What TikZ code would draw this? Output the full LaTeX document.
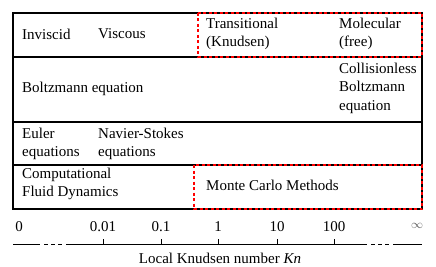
\documentclass[tikz,border=0pt]{standalone}
\usepackage{fontspec}
\setmainfont{Liberation Serif}
\begin{document}
\begin{tikzpicture}[x=1pt,y=-1pt,
  every node/.style={font=\fontsize{15}{18.5}\selectfont,inner sep=0pt,align=left},
  frame/.style={line width=1.3pt},
  regime/.style={red,line width=1.3pt,dash pattern=on 3pt off 2.5pt}]
\useasboundingbox (0,0) rectangle (436,267);
% table
\draw[frame] (13,13) rectangle (422,209);
\draw[frame] (13,57) -- (422,57);
\draw[frame] (13,122) -- (422,122);
\draw[frame] (13,165) -- (422,165);
\draw[regime] (198,13) rectangle (422,57);
\draw[regime] (194,165) rectangle (422,209);
\node[anchor=west] (inviscid) at (22,34) {Inviscid};
\node[anchor=west] (viscous) at (98,34) {Viscous};
\node[anchor=west] (transitional) at (206,34) {Transitional\\(Knudsen)};
\node[anchor=west] (molecular) at (339,34) {Molecular\\(free)};
\node[anchor=west] (boltzmann) at (22,89) {Boltzmann equation};
\node[anchor=west] (collisionless) at (339,88) {Collisionless\\Boltzmann\\equation};
\node[anchor=west] (euler) at (22,144) {Euler\\equations};
\node[anchor=west] (navier) at (98,144) {Navier-Stokes\\equations};
\node[anchor=west] (cfd) at (22,184) {Computational\\Fluid Dynamics};
\node[anchor=west] (montecarlo) at (206,185) {Monte Carlo Methods};
% axis
\draw[thick] (13,244) -- (40,244);
\draw[thick,dash pattern=on 4pt off 3pt] (44,244) -- (64,244);
\draw[thick] (66,244) -- (367,244);
\draw[thick,dash pattern=on 4pt off 3pt] (371,244) -- (391,244);
\draw[thick] (393,244) -- (422,244);
\node (kn0) at (19,227) {0};
\node[font=\fontsize{12}{14}\selectfont,gray!70!black] (kninf) at (417,226) {$\infty$};
\foreach \x/\k in {103/0.01,161/0.1,218/1,277/10,334/100} {
  \draw[line width=1pt] (\x,244) -- (\x,239);
  \node at (\x,227) {\k};
}
\node (knlabel) at (220,258) {Local Knudsen number \textit{Kn}};
\end{tikzpicture}
\end{document}
